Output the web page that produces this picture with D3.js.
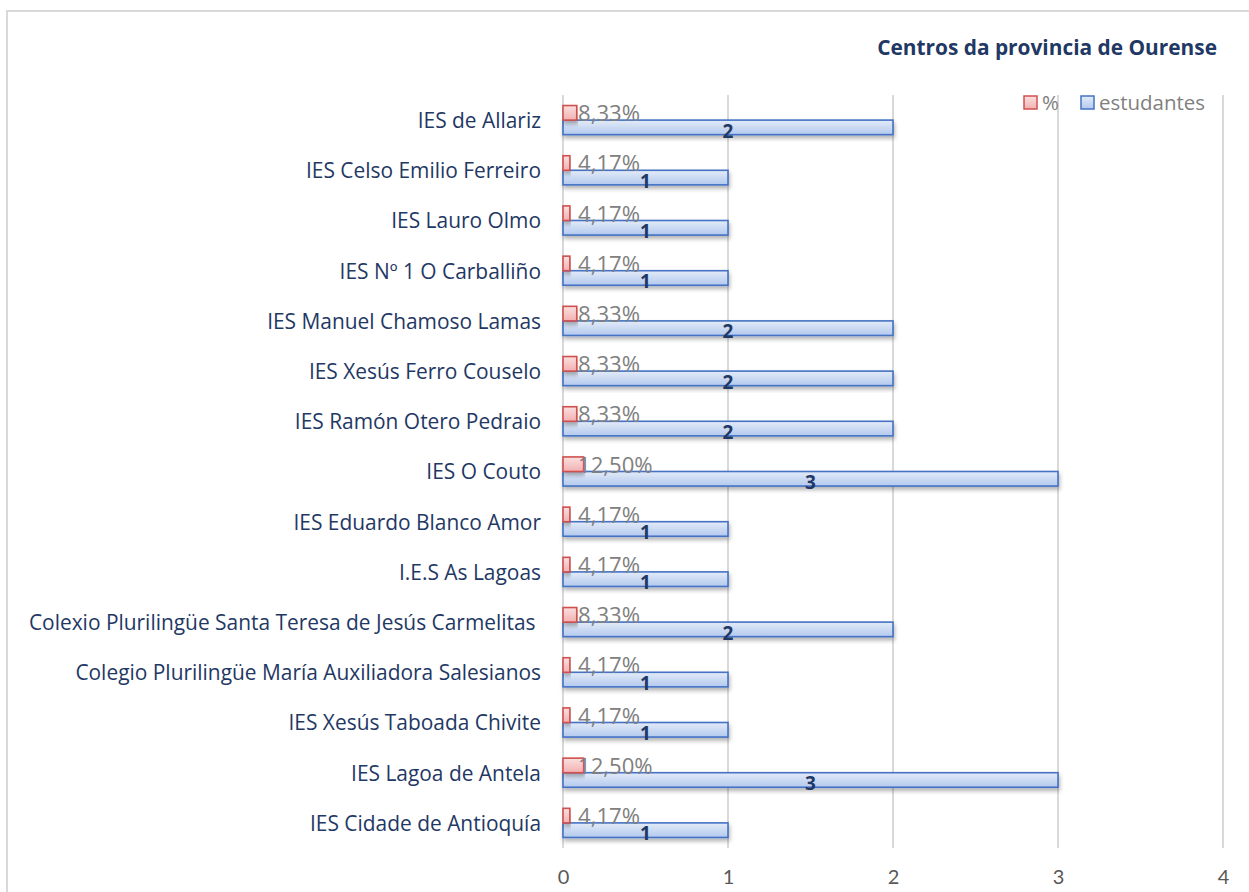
<!DOCTYPE html>
<html>
<head>
<meta charset="utf-8">
<script src="https://cdn.jsdelivr.net/npm/d3@7"></script>
<style>
  body { margin: 0; background: #fff; }
  svg text { font-family: "Open Sans", Lato, sans-serif; white-space: pre; }
</style>
</head>
<body>
<div id="chart"></div>
<script>
var centros = [
  "IES de Allariz",
  "IES Celso Emilio Ferreiro",
  "IES Lauro Olmo",
  "IES Nº 1 O Carballiño",
  "IES Manuel Chamoso Lamas",
  "IES Xesús Ferro Couselo",
  "IES Ramón Otero Pedraio",
  "IES O Couto",
  "IES Eduardo Blanco Amor",
  "I.E.S As Lagoas",
  "Colexio Plurilingüe Santa Teresa de Jesús Carmelitas ",
  "Colegio Plurilingüe María Auxiliadora Salesianos",
  "IES Xesús Taboada Chivite",
  "IES Lagoa de Antela",
  "IES Cidade de Antioquía"
];
var estudantes = [2, 1, 1, 1, 2, 2, 2, 3, 1, 1, 2, 1, 1, 3, 1];
var porcentaxe = [0.0833, 0.0417, 0.0417, 0.0417, 0.0833, 0.0833, 0.0833, 0.125, 0.0417, 0.0417, 0.0833, 0.0417, 0.0417, 0.125, 0.0417];
var porcentaxeTexto = ["8,33%", "4,17%", "4,17%", "4,17%", "8,33%", "8,33%", "8,33%", "12,50%", "4,17%", "4,17%", "8,33%", "4,17%", "4,17%", "12,50%", "4,17%"];
var xTicks = [0, 1, 2, 3, 4];

var width = 1249, height = 892;
var plotLeft = 563, plotRight = 1223, plotTop = 95, plotBottom = 848;

var svg = d3.select('#chart').append('svg')
  .attr('width', width)
  .attr('height', height);

// shrink/grow a font so a sample text gets a given width
function fitSize(sample, size, target, weight, family) {
  var t = svg.append('text')
    .style('font-size', size + 'px')
    .style('font-weight', weight || 'normal')
    .style('font-family', family || '"Open Sans", sans-serif')
    .text(sample);
  var w = t.node().getComputedTextLength();
  t.remove();
  return size * target / w;
}

var defs = svg.append('defs');
var gBlue = defs.append('linearGradient').attr('id', 'gBlue')
  .attr('x1', 0).attr('y1', 0).attr('x2', 0).attr('y2', 1);
gBlue.append('stop').attr('offset', '0%').attr('stop-color', '#e3ebf8');
gBlue.append('stop').attr('offset', '100%').attr('stop-color', '#b3c9ee');
var gRed = defs.append('linearGradient').attr('id', 'gRed')
  .attr('x1', 0).attr('y1', 0).attr('x2', 0).attr('y2', 1);
gRed.append('stop').attr('offset', '0%').attr('stop-color', '#fbe0e0');
gRed.append('stop').attr('offset', '100%').attr('stop-color', '#f2b0b0');
var shadow = defs.append('filter').attr('id', 'shadow')
  .attr('x', '-5%').attr('y', '-30%').attr('width', '110%').attr('height', '180%');
shadow.append('feDropShadow').attr('dx', 1).attr('dy', 3).attr('stdDeviation', 2)
  .attr('flood-color', '#000').attr('flood-opacity', 0.3);

// chart frame
svg.append('rect')
  .attr('x', 7).attr('y', 11)
  .attr('width', 1250).attr('height', 900)
  .attr('fill', '#fff')
  .attr('stroke', '#d9d9d9').attr('stroke-width', 2);

var x = d3.scaleLinear().domain([0, 4]).range([plotLeft, plotRight]);
var y = d3.scaleBand().domain(centros).range([plotTop, plotBottom]).paddingInner(0.42).paddingOuter(0.21);
var sub = d3.scaleBand().domain(['pct', 'est']).range([0, y.bandwidth()]);

// gridlines
svg.append('g').selectAll('line')
  .data(xTicks).enter().append('line')
  .attr('x1', function(d) { return x(d); })
  .attr('x2', function(d) { return x(d); })
  .attr('y1', plotTop).attr('y2', plotBottom)
  .attr('stroke', '#d9d9d9').attr('stroke-width', 2);

// x axis labels
var xAxis = d3.axisBottom(x).tickValues(xTicks).tickFormat(d3.format('d')).tickSize(0).tickPadding(22);
var gx = svg.append('g').attr('transform', 'translate(0,' + plotBottom + ')').call(xAxis);
gx.select('.domain').remove();
gx.selectAll('text')
  .attr('fill', '#595959')
  .style('font-size', '20px')
  .style('font-family', 'Lato, sans-serif');

// category labels
var catSize = fitSize('Colegio Plurilingüe María Auxiliadora Salesianos', 20, 466);
var yAxis = d3.axisLeft(y).tickSize(0).tickPadding(22);
var gy = svg.append('g').attr('transform', 'translate(' + plotLeft + ',0)').call(yAxis);
gy.select('.domain').remove();
gy.selectAll('text')
  .attr('fill', '#1f3864')
  .attr('dy', '0.38em')
  .style('font-size', catSize + 'px')
  .style('font-family', '"Open Sans", sans-serif');

var rows = centros.map(function(c, i) {
  return { centro: c, est: estudantes[i], pct: porcentaxe[i], txt: porcentaxeTexto[i] };
});

// estudantes bars
svg.append('g').selectAll('rect')
  .data(rows).enter().append('rect')
  .attr('x', x(0))
  .attr('y', function(d) { return y(d.centro) + sub('est'); })
  .attr('width', function(d) { return x(d.est) - x(0); })
  .attr('height', sub.bandwidth())
  .attr('fill', 'url(#gBlue)')
  .attr('stroke', '#4472c4').attr('stroke-width', 1.6)
  .attr('filter', 'url(#shadow)');

// % bars
svg.append('g').selectAll('rect')
  .data(rows).enter().append('rect')
  .attr('x', x(0))
  .attr('y', function(d) { return y(d.centro) + sub('pct'); })
  .attr('width', function(d) { return x(d.pct) - x(0); })
  .attr('height', sub.bandwidth())
  .attr('fill', 'url(#gRed)')
  .attr('stroke', '#d0504f').attr('stroke-width', 1.6)
  .attr('filter', 'url(#shadow)');

// % labels (Excel places them at a fixed offset from the axis)
var pctSize = fitSize('8,33%', 20, 62);
svg.append('g').selectAll('text')
  .data(rows).enter().append('text')
  .attr('x', x(0) + 15)
  .attr('y', function(d) { return y(d.centro) + sub('pct') + sub.bandwidth() + 1; })
  .attr('fill', '#808080')
  .style('font-size', pctSize + 'px')
  .text(function(d) { return d.txt; });

// estudantes labels
svg.append('g').selectAll('text')
  .data(rows).enter().append('text')
  .attr('x', function(d) { return (x(d.est) + x(0)) / 2; })
  .attr('y', function(d) { return y(d.centro) + sub('est') + sub.bandwidth() + 3; })
  .attr('text-anchor', 'middle')
  .attr('fill', '#1f3864')
  .style('font-size', '19px')
  .style('font-weight', 'bold')
  .text(function(d) { return d.est; });

// title
var titleSize = fitSize('Centros da provincia de Ourense', 18, 340, 'bold');
svg.append('text')
  .attr('x', 1217).attr('y', 55)
  .attr('text-anchor', 'end')
  .attr('fill', '#1f3864')
  .style('font-size', titleSize + 'px')
  .style('font-weight', 'bold')
  .text('Centros da provincia de Ourense');

// legend
var legSize = fitSize('estudantes', 20, 106);
var legend = [
  { name: '%', fill: 'url(#gRed)', stroke: '#d0504f', x: 1024 },
  { name: 'estudantes', fill: 'url(#gBlue)', stroke: '#4472c4', x: 1081 }
];
var lg = svg.append('g').selectAll('g')
  .data(legend).enter().append('g')
  .attr('transform', function(d) { return 'translate(' + d.x + ',96)'; });
lg.append('rect')
  .attr('width', 13).attr('height', 13)
  .attr('fill', function(d) { return d.fill; })
  .attr('stroke', function(d) { return d.stroke; }).attr('stroke-width', 1.5);
lg.append('text')
  .attr('x', 18).attr('y', 14)
  .attr('fill', '#808080')
  .style('font-size', legSize + 'px')
  .text(function(d) { return d.name; });
</script>
</body>
</html>
